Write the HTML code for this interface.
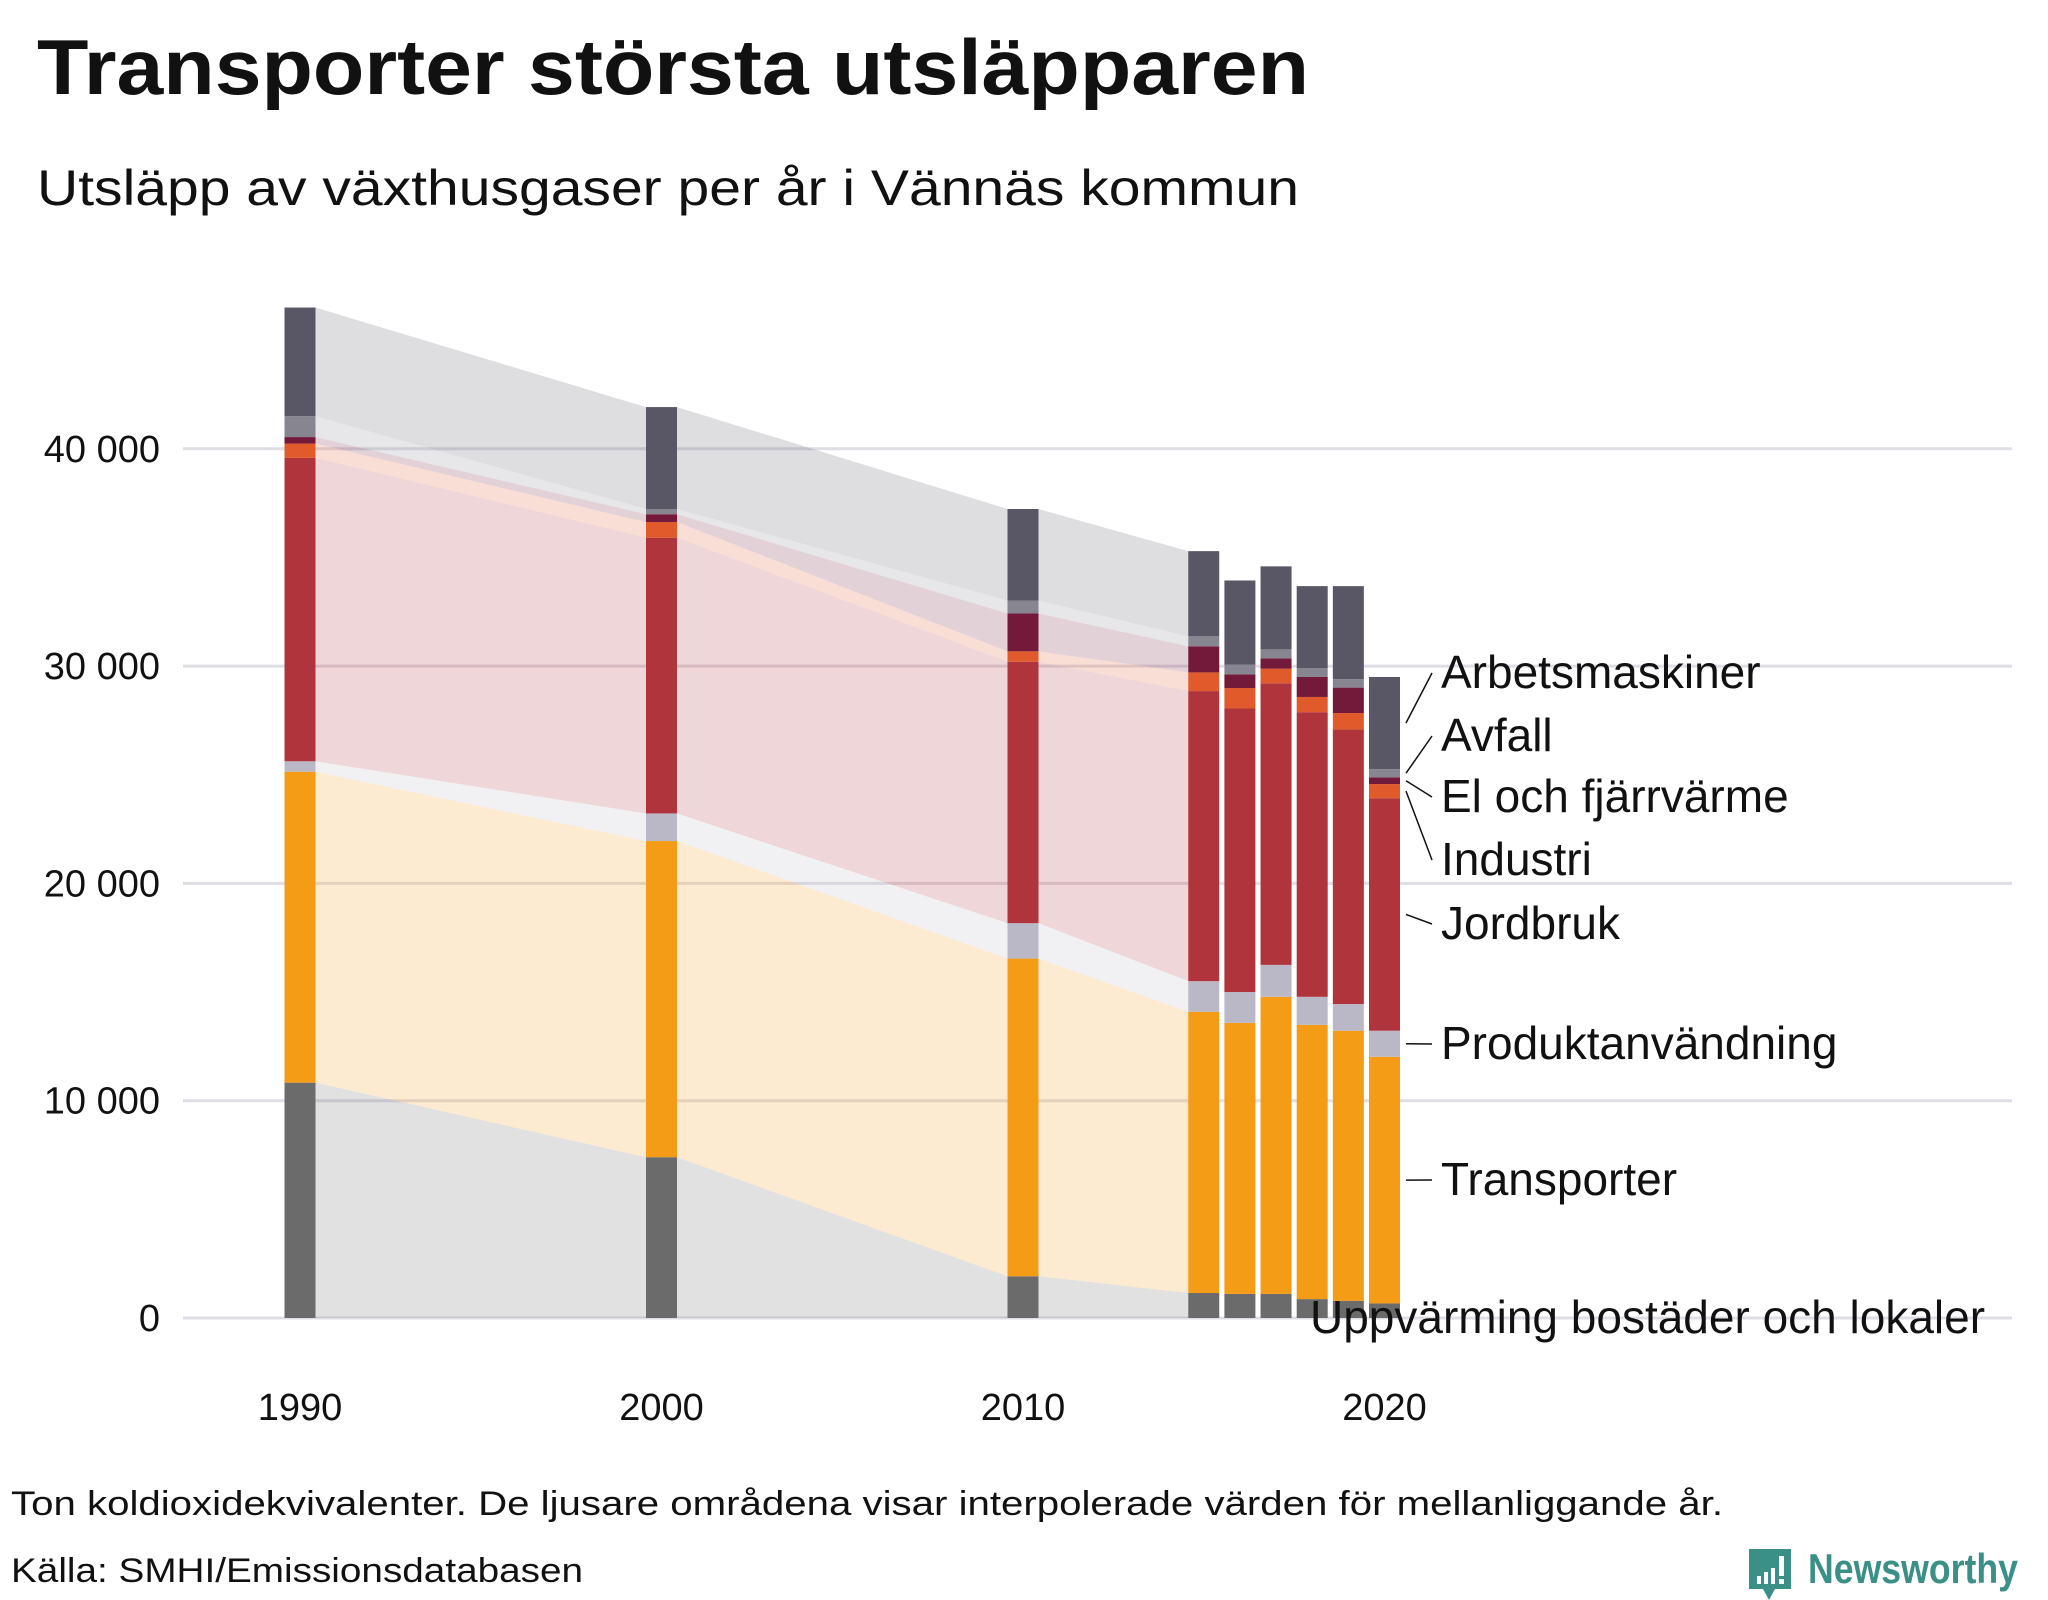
<!DOCTYPE html>
<html><head><meta charset="utf-8"><style>
html,body{margin:0;padding:0;background:#fff;}
svg{display:block;}
</style></head><body>
<svg id="chart" xmlns="http://www.w3.org/2000/svg" width="2048" height="1600" viewBox="0 0 2048 1600">
<text x="37" y="94" font-family="'Liberation Sans', sans-serif" font-weight="bold" font-size="78" fill="#111" textLength="1272" lengthAdjust="spacingAndGlyphs">Transporter största utsläpparen</text>
<text x="37" y="205" font-family="'Liberation Sans', sans-serif" font-size="50" fill="#111" textLength="1262" lengthAdjust="spacingAndGlyphs">Utsläpp av växthusgaser per år i Vännäs kommun</text>
<g id="grid"></g>
<g id="areas"></g>
<g id="bars"></g>
<g id="labels"></g>
<text x="11" y="1515" font-family="'Liberation Sans', sans-serif" font-size="34" fill="#111" textLength="1712" lengthAdjust="spacingAndGlyphs">Ton koldioxidekvivalenter. De ljusare områdena visar interpolerade värden för mellanliggande år.</text>
<text x="11" y="1582" font-family="'Liberation Sans', sans-serif" font-size="34" fill="#111" textLength="572" lengthAdjust="spacingAndGlyphs">Källa: SMHI/Emissionsdatabasen</text>
<g>
<path d="M1749 1549 h42 v40 h-16 l-6 11 l-6 -11 h-14 z" fill="#3a8f86"/>
<rect x="1757" y="1576" width="4" height="8" fill="#fff"/><rect x="1764" y="1572" width="4" height="12" fill="#fff"/><rect x="1771" y="1568" width="4" height="16" fill="#fff"/><rect x="1779" y="1556" width="5" height="20" fill="#fff"/><rect x="1779" y="1579" width="5" height="5" fill="#fff"/>
<text x="1808" y="1583" font-family="'Liberation Sans', sans-serif" font-weight="bold" font-size="42" fill="#3a8f86" textLength="210" lengthAdjust="spacingAndGlyphs">Newsworthy</text>
</g>
</svg>
<script>
const years = [1990, 2000, 2010, 2015, 2016, 2017, 2018, 2019, 2020];
const seriesNames = ["Uppvärming bostäder och lokaler","Transporter","Produktanvändning","Jordbruk","Industri","El och fjärrvärme","Avfall","Arbetsmaskiner"];
const uppvarmning = [10830, 7400, 1920, 1150, 1110, 1110, 870, 790, 670];
const transporter = [14310, 14550, 14620, 12940, 12470, 13670, 12620, 12430, 11350];
const produkt = [480, 1270, 1630, 1410, 1420, 1470, 1290, 1230, 1200];
const jordbruk = [13960, 12690, 12030, 13350, 13050, 12960, 13100, 12640, 10700];
const industri = [660, 720, 480, 860, 940, 670, 700, 750, 650];
const elFjarrvarme = [300, 360, 1740, 1200, 630, 480, 920, 1170, 310];
const avfall = [960, 240, 600, 460, 450, 410, 400, 390, 380];
const arbetsmaskiner = [5000, 4690, 4210, 3920, 3870, 3820, 3780, 4280, 4240];
const yTicks = [0, 10000, 20000, 30000, 40000];
const yTickLabels = ["0", "10 000", "20 000", "30 000", "40 000"];
const xTicks = [1990, 2000, 2010, 2020];

const series = [uppvarmning, transporter, produkt, jordbruk, industri, elFjarrvarme, avfall, arbetsmaskiner];
const colors = ["#6b6b6b","#f59c17","#bab8c6","#b0343c","#e05a2b","#731a3a","#87858f","#595665"];
const slugs = ["uppvarmning","transporter","produktanvandning","jordbruk","industri","el-och-fjarrvarme","avfall","arbetsmaskiner"];
const labelY = [1318, 1180, 1044, 924, 860, 797, 736, 673];
const NS = "http://www.w3.org/2000/svg";
const x = yr => 300 + (yr - 1990) * 36.15;
const y = v => 1318 - v * 0.02173;
const BW = 31;
function mk(tag, attrs, parent) {
  const el = document.createElementNS(NS, tag);
  for (const k in attrs) el.setAttribute(k, attrs[k]);
  parent.appendChild(el);
  return el;
}
const grid = document.getElementById('grid');
yTicks.forEach((t, i) => {
  const ln = mk('line', {x1: 183, x2: 2012, y1: y(t), y2: y(t), stroke: '#e0dee5', 'stroke-width': 3}, grid);
  
  
  const tx = mk('text', {x: 160, y: y(t) + 13, 'text-anchor': 'end', 'font-family': "'Liberation Sans', sans-serif", 'font-size': 38, fill: '#111'}, grid);
  tx.textContent = yTickLabels[i];
  
  
});
xTicks.forEach(t => {
  const tx = mk('text', {x: x(t), y: 1420, 'text-anchor': 'middle', 'font-family': "'Liberation Sans', sans-serif", 'font-size': 38, fill: '#111'}, grid);
  tx.textContent = String(t);
  
  
});
const cum = years.map((_, j) => { let s = 0; return series.map(ser => { const b = s; s += ser[j]; return [b, s]; }); });
const areas = document.getElementById('areas');
const bars = document.getElementById('bars');
for (let j = 0; j < years.length - 1; j++) {
  const xa = x(years[j]) + BW / 2, xb = x(years[j + 1]) - BW / 2;
  if (xb - xa < 10) continue;
  series.forEach((_, s) => {
    const a = cum[j][s], b = cum[j + 1][s];
    const p = mk('polygon', {points: `${xa},${y(a[0])} ${xb},${y(b[0])} ${xb},${y(b[1])} ${xa},${y(a[1])}`, fill: colors[s], 'fill-opacity': 0.2}, areas);
    
    
  });
}
years.forEach((yr, j) => {
  series.forEach((_, s) => {
    const c = cum[j][s];
    const r = mk('rect', {x: x(yr) - BW / 2, y: y(c[1]), width: BW, height: y(c[0]) - y(c[1]), fill: colors[s]}, bars);
    
    
  });
});
const labels = document.getElementById('labels');
const last = years.length - 1;
series.forEach((_, s) => {
  const c = cum[last][s];
  const mid = y((c[0] + c[1]) / 2);
  const lx = s === 0 ? 1310 : 1441;
  if (s !== 0) {
    const ln = mk('line', {x1: x(years[last]) + BW / 2 + 6, y1: mid, x2: 1432, y2: labelY[s], stroke: '#111', 'stroke-width': 1.5}, labels);
    
    
  }
  const t = mk('text', {x: lx, y: labelY[s] + 15, 'font-family': "'Liberation Sans', sans-serif", 'font-size': 46, fill: '#111'}, labels);
  t.textContent = seriesNames[s];
  
  
});
</script>
</body></html>
